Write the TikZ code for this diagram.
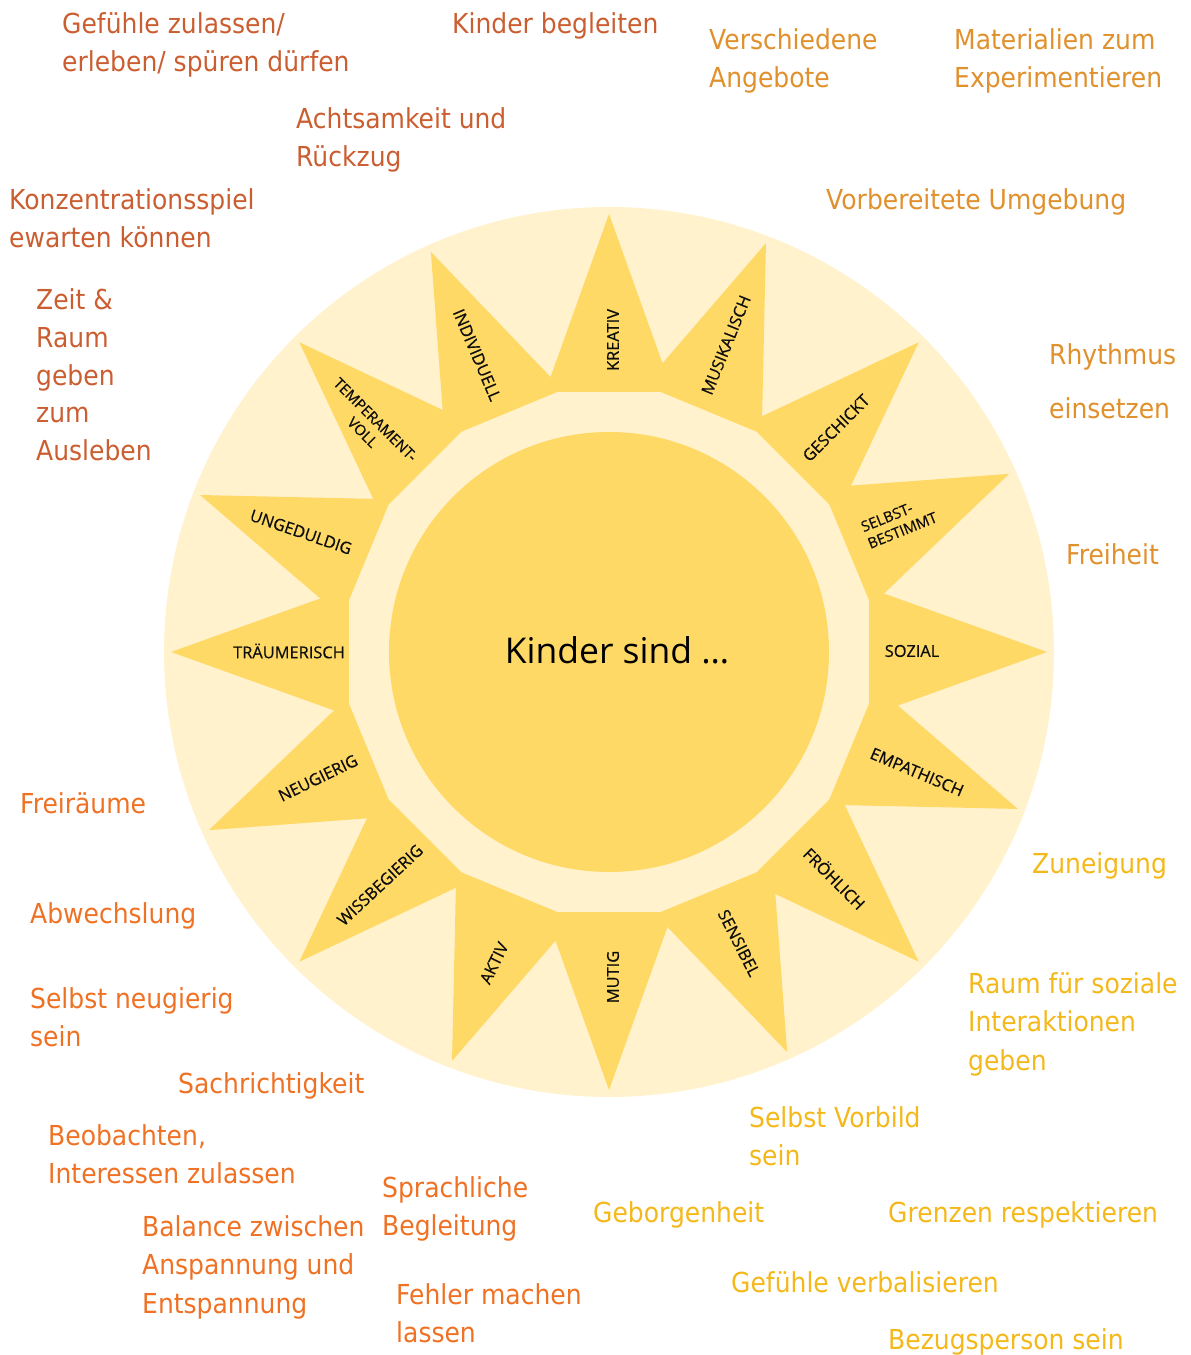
\documentclass[tikz,border=0pt]{standalone}
\usepackage{fontspec}
\setmainfont{DejaVu Sans}
\newfontfamily\notefont[FakeStretch=0.91]{DejaVu Sans}
\newfontfamily\raylabelfont[FakeBold=0.6]{Open Sans}
\newfontfamily\centerfont{Open Sans}
\usetikzlibrary{calc}
\definecolor{pale}{HTML}{FFF2CC}
\definecolor{sunyel}{HTML}{FFD966}
\definecolor{ordark}{HTML}{CB5E31}
\definecolor{orbright}{HTML}{EF7124}
\definecolor{orgold}{HTML}{E0902C}
\definecolor{goldy}{HTML}{F4B81A}
\begin{document}
\begin{tikzpicture}[x=1pt,y=1pt,
  note/.style={anchor=north west, inner sep=0pt, align=left, font=\notefont\fontsize{27.5}{38.5}\selectfont},
  dk/.style={note, text=ordark},
  br/.style={note, text=orbright},
  gd/.style={note, text=orgold},
  yl/.style={note, text=goldy},
  raylbl/.style={inner sep=0pt, text=black!95, font=\raylabelfont\fontsize{16.4}{19}\selectfont},
  raylbltwo/.style={inner sep=0pt, text=black!95, font=\raylabelfont\fontsize{14.8}{18}\selectfont}
]
\useasboundingbox (0,0) rectangle (1191,1355);
\coordinate (c) at (609,703);
% sun
\fill[pale] (c) circle (445);
\begin{scope}[shift={(c)}]
\fill[sunyel] (0:438) \foreach \k in {1,...,8} {-- ({\k*45-22.5}:220) -- ({\k*45}:438)} -- cycle;
\fill[sunyel] (24:438) \foreach \k in {1,...,8} {-- ({\k*45+1.5}:220) -- ({\k*45+24}:438)} -- cycle;
\fill[pale] (11.25:265) \foreach \k in {1,...,15} {-- ({\k*22.5+11.25}:265)} -- cycle;
\fill[sunyel] (0,0) circle (220);
\end{scope}
\node[inner sep=0pt, text=black, font=\centerfont\fontsize{35.5}{40}\selectfont] (center) at (617,705) {Kinder sind …};
% ray labels
\node[raylbl, rotate=90] (l1) at (613,1015) {KREATIV};
\node[raylbl, rotate=68] (l2) at (726,1010) {MUSIKALISCH};
\node[raylbl, rotate=45] (l3) at (836,927) {GESCHICKT};
\node[raylbltwo, rotate=22, align=left] (l4) at (899,833) {SELBST-\\BESTIMMT};
\node[raylbl] (l5) at (912,704) {SOZIAL};
\node[raylbl, rotate=-23] (l6) at (917,583) {EMPATHISCH};
\node[raylbl, rotate=-45] (l7) at (835,477) {FRÖHLICH};
\node[raylbl, rotate=-63] (l8) at (739,412) {SENSIBEL};
\node[raylbl, rotate=90] (l9) at (613,378) {MUTIG};
\node[raylbl, rotate=64] (l10) at (494,392) {AKTIV};
\node[raylbl, rotate=43] (l11) at (380,470) {WISSBEGIERIG};
\node[raylbl, rotate=26] (l12) at (318,577) {NEUGIERIG};
\node[raylbl] (l13) at (289,704) {TRÄUMERISCH};
\node[raylbl, rotate=-19] (l14) at (301,823) {UNGEDULDIG};
\node[raylbltwo, rotate=-45, align=center] (l15) at (369,929) {TEMPERAMENT-\\VOLL};
\node[raylbl, rotate=-67] (l16) at (477,1000) {INDIVIDUELL};
% surrounding notes
\node[dk] (n1) at (62,1342.6) {Gefühle zulassen/\\erleben/ spüren dürfen};
\node[dk] (n2) at (452,1342.6) {Kinder begleiten};
\node[dk] (n3) at (296,1247.6) {Achtsamkeit und\\Rückzug};
\node[dk] (n4) at (9,1166.6) {Konzentrationsspiel\\ewarten können};
\node[dk, font=\notefont\fontsize{27.5}{37.8}\selectfont] (n5) at (36,1066.6) {Zeit \&\\Raum\\geben\\zum\\Ausleben};
\node[gd] (n6) at (709,1326.6) {Verschiedene\\Angebote};
\node[gd] (n7) at (954,1326.6) {Materialien zum\\Experimentieren};
\node[gd] (n8) at (826,1166.6) {Vorbereitete Umgebung};
\node[gd] (n9) at (1049,1011.6) {Rhythmus\\[15.5pt]einsetzen};
\node[gd] (n10) at (1066,811.6) {Freiheit};
\node[br] (n11) at (20,562.6) {Freiräume};
\node[br] (n12) at (30,452.6) {Abwechslung};
\node[br] (n13) at (30,367.6) {Selbst neugierig\\sein};
\node[br] (n14) at (178,282.6) {Sachrichtigkeit};
\node[br] (n15) at (48,230.6) {Beobachten,\\Interessen zulassen};
\node[br] (n16) at (142,139.6) {Balance zwischen\\Anspannung und\\Entspannung};
\node[br] (n17) at (382,178.6) {Sprachliche\\Begleitung};
\node[br] (n18) at (396,71.6) {Fehler machen\\lassen};
\node[yl] (n19) at (1032,502.6) {Zuneigung};
\node[yl] (n20) at (968,382.6) {Raum für soziale\\Interaktionen\\geben};
\node[yl] (n21) at (749,248.6) {Selbst Vorbild\\sein};
\node[yl] (n22) at (593,153.6) {Geborgenheit};
\node[yl] (n23) at (888,153.6) {Grenzen respektieren};
\node[yl] (n24) at (731,83.6) {Gefühle verbalisieren};
\node[yl] (n25) at (888,26.6) {Bezugsperson sein};
\end{tikzpicture}
\end{document}
